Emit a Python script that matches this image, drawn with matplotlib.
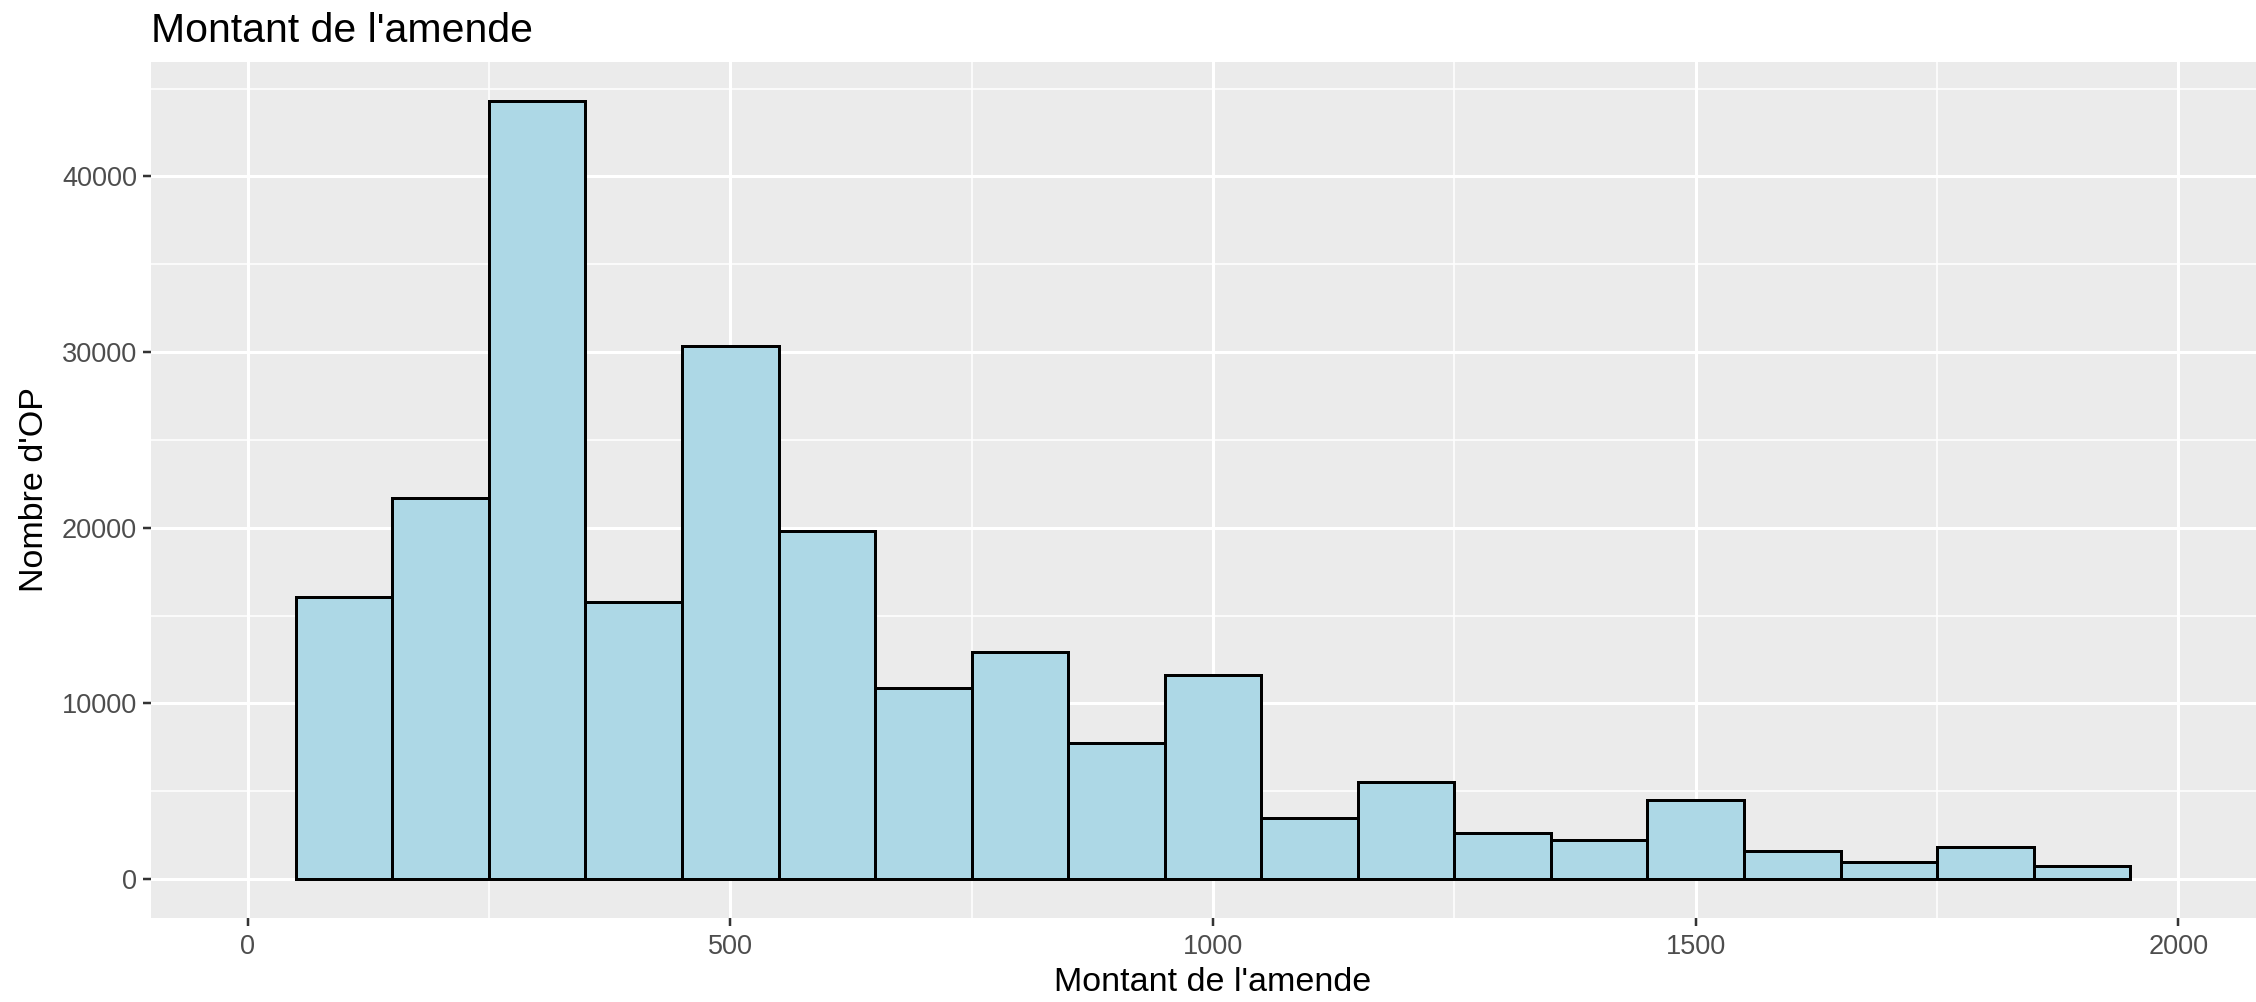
import numpy as np
import matplotlib.pyplot as plt

plt.rcParams["font.family"] = ["Liberation Sans", "DejaVu Sans"]

TITLE = "Montant de l'amende"
X_LABEL = "Montant de l'amende"
Y_LABEL = "Nombre d'OP"
OUTPUT_FILE = "out.png"

# histogram bins (width 100, centred on multiples of 100)
bin_centers = [100, 200, 300, 400, 500, 600, 700, 800, 900, 1000,
               1100, 1200, 1300, 1400, 1500, 1600, 1700, 1800, 1900]
counts = [16050, 21700, 44300, 15800, 30350, 19800, 10900, 12900, 7730, 11600,
          3450, 5500, 2600, 2250, 4500, 1600, 950, 1800, 720]
BIN_WIDTH = 100

x_ticks = [0, 500, 1000, 1500, 2000]
x_minor = [250, 750, 1250, 1750]
y_ticks = [0, 10000, 20000, 30000, 40000]
y_minor = [5000, 15000, 25000, 35000, 45000]

W, H = 2256, 1002
DPI = 100
PX = 72 / DPI  # points per pixel

fig = plt.figure(figsize=(W / DPI, H / DPI), dpi=DPI, facecolor="white")

# panel runs a little past the right edge, as in the cropped original
left, right = 151, 2275
top, bottom = 62, 918
ax = fig.add_axes([left / W, 1 - bottom / H, (right - left) / W, (bottom - top) / H])

ax.set_facecolor("#EBEBEB")
for spine in ax.spines.values():
    spine.set_visible(False)

ax.bar(
    bin_centers,
    counts,
    width=BIN_WIDTH,
    color="#ADD8E6",
    edgecolor="black",
    linewidth=3 * PX,
    zorder=3
)

ymax = max(counts)
ax.set_ylim(-0.05 * ymax, 1.05 * ymax)
ax.set_xlim(-100, 2100)

ax.set_xticks(x_ticks)
ax.set_xticks(x_minor, minor=True)
ax.set_yticks(y_ticks)
ax.set_yticks(y_minor, minor=True)
ax.set_xticklabels([str(v) for v in x_ticks])
ax.set_yticklabels([str(v) for v in y_ticks])

ax.grid(which="major", color="white", linewidth=3 * PX, zorder=0)
ax.grid(which="minor", color="white", linewidth=1.5 * PX, zorder=0)
ax.set_axisbelow(True)

ax.tick_params(
    which="major",
    length=8 * PX,
    width=2.5 * PX,
    color="#333333",
    labelsize=19.5,
    labelcolor="#4D4D4D"
)
ax.tick_params(axis="x", pad=8 * PX)
ax.tick_params(axis="y", pad=6 * PX)
ax.tick_params(which="minor", length=0)

ax.set_xlabel(X_LABEL, fontsize=24.5, color="black", labelpad=5)
ax.set_ylabel(Y_LABEL, fontsize=24.5, color="black")
ax.yaxis.set_label_coords(-0.0475, 0.5)

ax.set_title(TITLE, loc="left", fontsize=29.5, color="black", pad=20 * PX)

fig.savefig(OUTPUT_FILE, dpi=DPI, facecolor="white")
